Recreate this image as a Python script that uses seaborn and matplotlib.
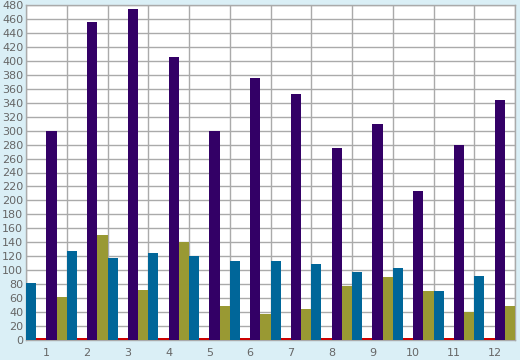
import pandas as pd
import numpy as np
import matplotlib
matplotlib.use("Agg")
import matplotlib.pyplot as plt
import seaborn as sns

months = [str(i) for i in range(1, 13)]
blue = [81, 128, 117, 124, 120, 113, 113, 109, 98, 103, 70, 92]
red = [2.5] * 12
purple = [300, 456, 474, 406, 300, 375, 353, 275, 310, 213, 280, 344]
olive = [62, 151, 72, 141, 49, 37, 44, 77, 90, 70, 40, 49]

series = {"A": blue, "B": red, "C": purple, "D": olive}
colors = ["#006699", "#cc0000", "#330066", "#999933"]

df = pd.concat(
    [pd.DataFrame({"month": months, "series": k, "value": v}) for k, v in series.items()],
    ignore_index=True,
)

sns.set_style("white")
fig = plt.figure(figsize=(5.2, 3.6), dpi=100, facecolor="#daeff6")
ax = fig.add_axes([26 / 520, 1 - 340 / 360, 489 / 520, 335 / 360])

sns.barplot(data=df, x="month", y="value", hue="series", palette=colors,
            width=1.0, gap=0, saturation=1, errorbar=None, legend=False, ax=ax,
            linewidth=0, zorder=3)

ax.set_xlim(-0.5, 11.5)
ax.set_ylim(0, 480)
ax.set_yticks(range(0, 481, 20))
ax.set_xticks(range(12))
ax.set_xticklabels(months)
ax.set_xticks(np.arange(-0.5, 12, 1), minor=True)
ax.tick_params(axis="x", which="major", length=0, pad=6, labelsize=8, labelcolor="#666666")
ax.tick_params(axis="x", which="minor", length=5, color="#888888", direction="out")
ax.tick_params(axis="y", length=0, pad=2, labelsize=8, labelcolor="#666666")
ax.grid(True, axis="y", color="#aaaaaa", linewidth=1, zorder=0)
ax.grid(True, axis="x", which="minor", color="#aaaaaa", linewidth=1, zorder=0)
ax.set_axisbelow(True)
for s in ax.spines.values():
    s.set_color("#aaaaaa")
    s.set_linewidth(1)
    s.set_zorder(1)
ax.set_xlabel("")
ax.set_ylabel("")

fig.savefig("out.png", dpi=100, facecolor=fig.get_facecolor())
